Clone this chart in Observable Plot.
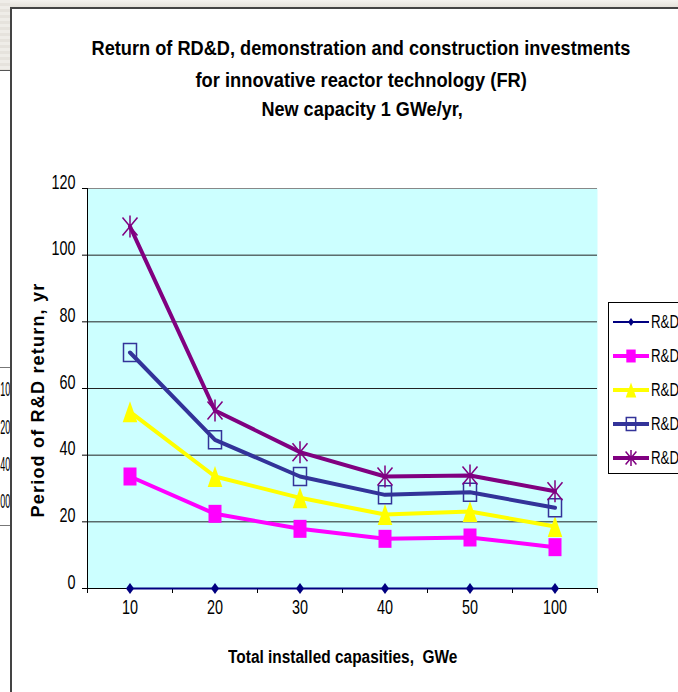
<!DOCTYPE html>
<html>
<head>
<meta charset="utf-8">
<script src="https://cdn.jsdelivr.net/npm/d3@7"></script>
<script src="https://cdn.jsdelivr.net/npm/@observablehq/plot@0.6"></script>
<style>
  html, body { margin: 0; padding: 0; background: #fff; }
  body { width: 678px; height: 692px; overflow: hidden; position: relative;
         font-family: "Liberation Sans", Arial, sans-serif; color: #000; }
  #top-strip { position: absolute; left: 0; top: 0; width: 678px; height: 7px;
               background: linear-gradient(#f5f3ef, #e4e1da); }
  #left-strip { position: absolute; left: 0; top: 0; width: 10px; height: 70px;
                background: repeating-linear-gradient(#efede8 0 3px, #e6e3dd 3px 6px);
                border-bottom: 1px solid #555; }
  #left-table { position: absolute; left: 0; top: 70px; width: 10px; height: 622px; overflow: hidden; }
  #left-table .rule { position: absolute; left: 0; width: 10px; height: 0; border-top: 1px solid #777; }
  #left-table .cell { position: absolute; right: 0; font-size: 20px; line-height: 20px;
                      transform: scaleX(0.45); transform-origin: right center; white-space: nowrap; }
  #frame { position: absolute; left: 10px; top: 7px; width: 700px; height: 700px;
           border-left: 2px solid #444; border-top: 2px solid #444; box-sizing: border-box; background: #fff; }
  #chart { position: absolute; left: 0; top: 0; }
  .label { position: absolute; white-space: pre; line-height: 1; }
  #legend { position: absolute; left: 608px; top: 302px; width: 120px; height: 172px;
            border: 1px solid #000; box-sizing: border-box; background: #fff; }
  #legend .item { position: absolute; left: 3px; height: 30px; display: flex; align-items: center; }
  #legend .item span { font-size: 18px; line-height: 1; display: inline-block;
                       transform: scaleX(0.74); transform-origin: left center; margin-left: 1px; }
</style>
</head>
<body>
<div id="top-strip"></div>
<div id="left-strip"></div>
<div id="frame"></div>
<div id="left-table"></div>
<div id="chart"></div>
<div id="legend"></div>
<script>
// Total installed capacity categories (GWe)
const capacities = ["10", "20", "30", "40", "50", "100"];

// Period of R&D return, years, one array per series
const rdOnly      = [0, 0, 0, 0, 0, 0];
const rdSeries2   = [33.6, 22.4, 17.9, 14.9, 15.3, 12.4];
const rdSeries3   = [53.0, 33.6, 27.2, 22.2, 23.1, 18.6];
const rdSeries4   = [70.8, 44.6, 33.6, 28.1, 28.9, 24.2];
const rdSeries5   = [108.6, 53.4, 40.9, 33.6, 33.9, 29.2];

const seriesLabels = ["R&D", "R&D", "R&D", "R&D", "R&D"];
const yTicks = [0, 20, 40, 60, 80, 100, 120];

// Marker shapes (slightly taller than wide)
const diamond = { draw(c) { c.moveTo(0, -5.5); c.lineTo(4, 0); c.lineTo(0, 5.5); c.lineTo(-4, 0); c.closePath(); } };
const block   = { draw(c) { c.rect(-6.5, -9, 13, 18); } };
const tri     = { draw(c) { c.moveTo(0, -10.5); c.lineTo(7.3, 10.5); c.lineTo(-7.3, 10.5); c.closePath(); } };
const box     = { draw(c) { c.rect(-6.5, -9, 13, 18); } };
const star    = { draw(c) {
  c.moveTo(0, -11); c.lineTo(0, 11);
  c.moveTo(-7.5, -9); c.lineTo(7.5, 9);
  c.moveTo(7.5, -9); c.lineTo(-7.5, 9);
} };

const series = [
  { values: rdOnly,    color: "#000080", width: 1.8, symbol: diamond, fill: "#000080", stroke: "none", sw: 0 },
  { values: rdSeries2, color: "#ff00ff", width: 4,   symbol: block,   fill: "#ff00ff", stroke: "none", sw: 0 },
  { values: rdSeries3, color: "#ffff00", width: 4,   symbol: tri,     fill: "#ffff00", stroke: "none", sw: 0 },
  { values: rdSeries4, color: "#333399", width: 4,   symbol: box,     fill: "none",    stroke: "#333399", sw: 1.5 },
  { values: rdSeries5, color: "#800080", width: 4,   symbol: star,    fill: "none",    stroke: "#800080", sw: 1.5 }
];

const rowsOf = s => s.values.map((v, i) => ({ i, v }));
const boundaries = d3.range(-0.5, capacities.length, 1);

const marks = [
  Plot.frame({ fill: "#ccffff", stroke: "none" }),
  Plot.gridY({ ticks: [20, 40, 60, 80, 100], stroke: "#222", strokeOpacity: 1 }),
  Plot.gridY({ ticks: [120], stroke: "#888", strokeOpacity: 1 }),
  Plot.ruleX([-0.5], { stroke: "#000" }),
  Plot.ruleY([0], { stroke: "#000" }),
  Plot.axisY({ ticks: yTicks, tickSize: 5, tickPadding: 7, label: null }),
  Plot.axisX({ ticks: boundaries, tickSize: 5, tickFormat: () => "", label: null }),
  Plot.axisX({ ticks: d3.range(capacities.length), tickSize: 0, tickPadding: 25,
               tickFormat: i => capacities[i], label: null })
];
for (const s of series) {
  marks.push(Plot.line(rowsOf(s), { x: "i", y: "v", stroke: s.color, strokeWidth: s.width }));
  marks.push(Plot.dot(rowsOf(s), { x: "i", y: "v", symbol: s.symbol, r: 5,
                                   fill: s.fill, stroke: s.stroke, strokeWidth: s.sw }));
}

const chart = Plot.plot({
  width: 678,
  height: 692,
  marginLeft: 87,
  marginRight: 81,
  marginTop: 188,
  marginBottom: 104,
  x: { type: "linear", domain: [-0.5, capacities.length - 0.5] },
  y: { type: "linear", domain: [0, 120] },
  style: { background: "transparent", fontFamily: "'Liberation Sans', Arial, sans-serif",
           color: "#000", overflow: "visible" },
  marks
});
document.getElementById("chart").appendChild(chart);

// Larger, narrowed tick labels, squeezed around their anchor points
chart.querySelectorAll('[aria-label$="tick label"]').forEach(g => g.setAttribute("font-size", 20));
chart.querySelectorAll('[aria-label$="tick label"] text').forEach(el => {
  el.style.fontSize = "20px";
  const x = +el.getAttribute("x") || 0, y = +el.getAttribute("y") || 0;
  el.removeAttribute("x"); el.removeAttribute("y");
  const t = el.getAttribute("transform") || "";
  el.setAttribute("transform", `${t} translate(${x},${y}) scale(0.72,1)`);
});

// Text labels: centred at (cx, cy), squeezed to a given width
function addLabel(text, cx, cy, size, weight, width, rotate = 0, spacing = 0) {
  const el = document.createElement("div");
  el.className = "label";
  el.textContent = text;
  el.style.fontSize = size + "px";
  el.style.fontWeight = weight;
  el.style.letterSpacing = spacing + "px";
  document.body.appendChild(el);
  const w = el.offsetWidth, h = el.offsetHeight;
  const k = width ? width / w : 1;
  el.style.left = (cx - w / 2) + "px";
  el.style.top = (cy - h / 2) + "px";
  el.style.transform = `rotate(${rotate}deg) scaleX(${k})`;
  return el;
}
addLabel("Return of RD&D, demonstration and construction investments", 361, 47.5, 21, "bold", 539);
addLabel("for innovative reactor technology (FR)", 361, 79, 21, "bold", 331);
addLabel("New capacity 1 GWe/yr,", 362, 108.5, 21, "bold", 201);
addLabel("Total installed capasities,  GWe", 342, 657, 18, "bold", 229);
addLabel("Period of R&D return, yr", 38, 400, 18, "bold", 235, -90, 1.2);

// Legend
const legend = d3.select("#legend");
series.forEach((s, k) => {
  const item = legend.append("div").attr("class", "item").style("top", (4 + k * 34) + "px");
  const svg = item.append("svg").attr("width", 38).attr("height", 30);
  svg.append("line").attr("x1", 1).attr("x2", 37).attr("y1", 15).attr("y2", 15)
     .attr("stroke", s.color).attr("stroke-width", s.width);
  svg.append("path").attr("d", d3.symbol(s.symbol)())
     .attr("transform", "translate(19,15) scale(0.72)")
     .attr("fill", s.fill).attr("stroke", s.stroke).attr("stroke-width", s.sw / 0.72);
  item.append("span").text(seriesLabels[k]);
});

// Neighbouring sheet fragment on the left edge
const table = d3.select("#left-table");
[297, 455].forEach(y => table.append("div").attr("class", "rule").style("top", y + "px"));
[["10", 319], ["20", 357], ["40", 394], ["00", 431]].forEach(([t, y]) =>
  table.append("div").attr("class", "cell").style("top", (y - 10) + "px").text(t));
</script>
</body>
</html>
